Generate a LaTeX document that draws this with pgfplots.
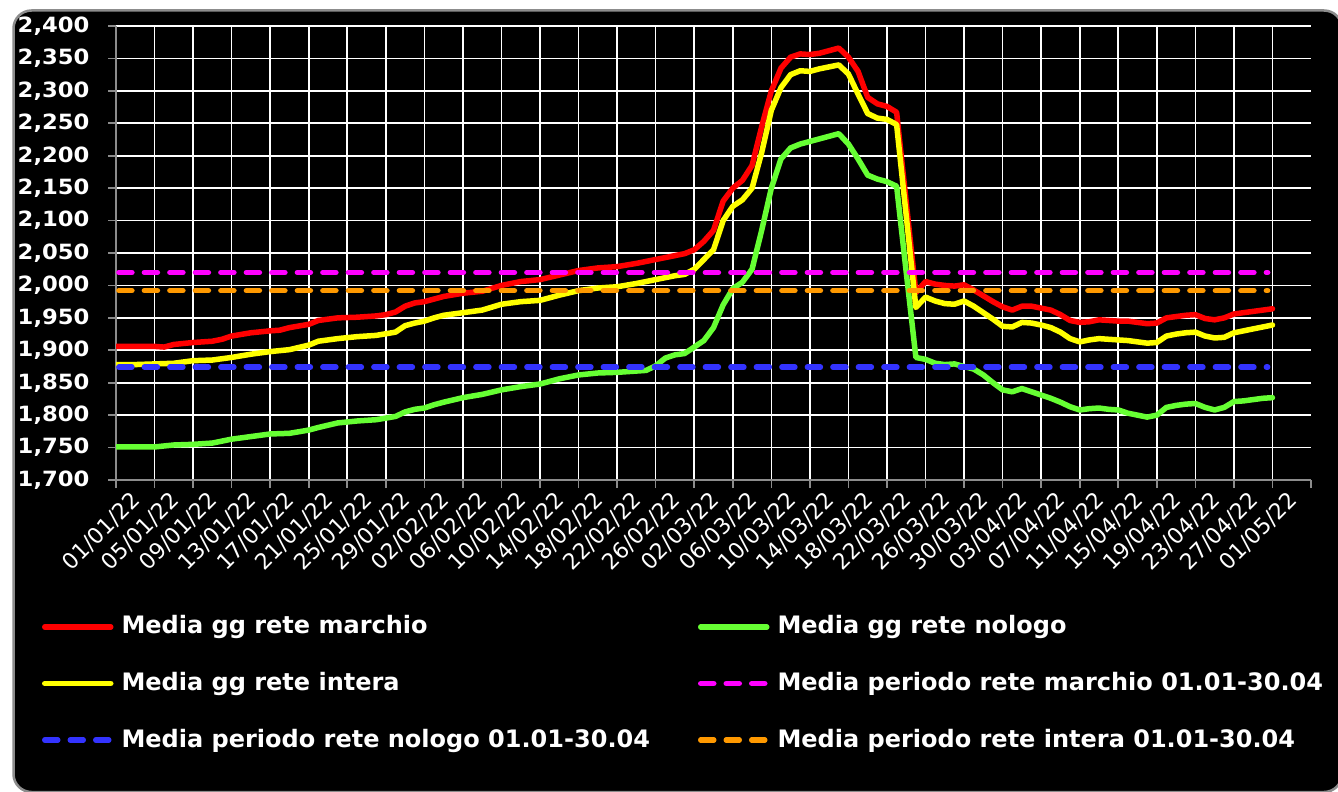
\documentclass[border=0pt]{standalone}
\usepackage{pgfplots}
\pgfplotsset{compat=1.18}
\usepackage{pgfplotstable}
\usepackage{fontspec}
\setmainfont{DejaVu Sans}
\newfontfamily\tickfam[FakeStretch=1.08]{DejaVu Sans}
\newfontfamily\legfam{DejaVu Sans}
\definecolor{cred}{HTML}{FF0000}
\definecolor{cyel}{HTML}{FFFF00}
\definecolor{cgrn}{HTML}{66FF33}
\definecolor{cmag}{HTML}{FF00FF}
\definecolor{cblu}{HTML}{3333FF}
\definecolor{cora}{HTML}{FF9900}
\definecolor{cframe}{HTML}{8C8C8C}

\pgfplotstableread{
day val
0 1906
2 1906
4 1906
5 1905
6 1909
8 1912
10 1914
11 1917
12 1922
14 1927
16 1930
17 1931
18 1935
20 1940
21 1946
23 1950
25 1951
27 1953
28 1955
29 1959
30 1968
31 1973
32 1975
33 1979
34 1983
36 1988
38 1991
40 2000
42 2006
44 2009
46 2016
48 2023
50 2027
52 2029
54 2034
56 2040
58 2046
59 2049
60 2055
61 2068
62 2085
63 2130
64 2150
65 2162
66 2185
67 2245
68 2300
69 2335
70 2352
71 2357
72 2356
73 2358
74 2362
75 2366
76 2352
77 2330
78 2290
79 2280
80 2276
81 2267
82 2128
83 1989
84 2006
85 2002
86 2000
87 1999
88 2001
89 1993
90 1984
91 1975
92 1967
93 1962
94 1968
95 1968
96 1965
97 1962
98 1955
99 1946
100 1943
101 1944
102 1947
103 1946
104 1945
105 1945
106 1943
107 1941
108 1942
109 1950
110 1952
111 1954
112 1955
113 1949
114 1947
115 1950
116 1956
117 1958
118 1960
119 1962
120 1964
}\tabmarchio

\pgfplotstableread{
day val
0 1878
2 1878
4 1879
6 1880
8 1884
10 1885
12 1889
14 1894
16 1898
18 1901
20 1908
21 1914
23 1918
25 1921
27 1923
29 1928
30 1938
31 1942
32 1945
33 1950
34 1954
36 1958
38 1962
40 1971
42 1975
44 1977
46 1985
48 1992
50 1996
52 1998
54 2003
56 2009
58 2015
59 2017
60 2025
61 2040
62 2055
63 2100
64 2122
65 2132
66 2150
67 2205
68 2270
69 2305
70 2325
71 2331
72 2330
73 2334
74 2337
75 2340
76 2326
77 2295
78 2265
79 2258
80 2256
81 2248
82 2107
83 1966
84 1982
85 1976
86 1972
87 1971
88 1976
89 1968
90 1958
91 1948
92 1937
93 1936
94 1943
95 1942
96 1939
97 1935
98 1928
99 1918
100 1913
101 1916
102 1918
103 1917
104 1916
105 1915
106 1913
107 1911
108 1912
109 1922
110 1925
111 1927
112 1928
113 1922
114 1919
115 1920
116 1927
117 1930
118 1933
119 1936
120 1939
}\tabintera

\pgfplotstableread{
day val
0 1751
2 1751
4 1751
6 1754
8 1755
10 1757
12 1763
14 1767
16 1771
18 1772
20 1777
21 1781
23 1788
25 1791
27 1793
29 1798
30 1805
31 1809
32 1811
33 1816
34 1820
36 1827
38 1832
40 1839
42 1844
44 1848
46 1856
48 1862
50 1865
52 1866
54 1868
55 1869
56 1876
57 1888
58 1893
59 1895
60 1905
61 1915
62 1935
63 1970
64 1995
65 2005
66 2025
67 2085
68 2150
69 2195
70 2212
71 2218
72 2222
73 2226
74 2230
75 2234
76 2218
77 2195
78 2170
79 2164
80 2160
81 2153
82 2020
83 1889
84 1886
85 1880
86 1878
87 1879
88 1875
89 1871
90 1862
91 1850
92 1839
93 1836
94 1841
95 1836
96 1831
97 1826
98 1820
99 1813
100 1808
101 1810
102 1811
103 1809
104 1808
105 1803
106 1800
107 1797
108 1800
109 1812
110 1815
111 1817
112 1818
113 1812
114 1808
115 1812
116 1821
117 1822
118 1824
119 1826
120 1827
}\tabnologo

\begin{document}
\begin{tikzpicture}[x=1bp,y=1bp]
\useasboundingbox (0,0) rectangle (1338,-791);
\fill[white] (0,0) rectangle (1338,-791);
\draw[line width=2.5bp, draw=cframe, fill=black, rounded corners=18bp] (13.5,-10.5) rectangle (1342,-792);
\begin{axis}[
  at={(116bp,-480bp)}, anchor=south west,
  scale only axis, width=1195bp, height=454bp,
  xmin=0, xmax=124, ymin=1700, ymax=2400,
  xtick={0,4,...,120},
  xticklabels={01/01/22,05/01/22,09/01/22,13/01/22,17/01/22,21/01/22,25/01/22,29/01/22,02/02/22,06/02/22,10/02/22,14/02/22,18/02/22,22/02/22,26/02/22,02/03/22,06/03/22,10/03/22,14/03/22,18/03/22,22/03/22,26/03/22,30/03/22,03/04/22,07/04/22,11/04/22,15/04/22,19/04/22,23/04/22,27/04/22,01/05/22},
  extra x ticks={124}, extra x tick labels={}, extra x tick style={grid=none},
  ytick={1700,1750,...,2400},
  grid=major, major grid style={white, line width=1.6bp},
  axis x line*=bottom, axis y line*=left,
  axis line style={cframe, line width=2bp},
  tick align=outside, major tick length=8bp,
  tick style={cframe, line width=1.6bp},
  yticklabel style={font=\tickfam\bfseries\fontsize{21bp}{21bp}\selectfont, text=white, xshift=-15bp, /pgf/number format/1000 sep={,}, /pgf/number format/assume math mode=true},
  xticklabel style={font=\fontsize{22bp}{22bp}\selectfont, text=white, rotate=45, anchor=north east, inner sep=1bp, xshift=10bp, yshift=-10bp},
  legend columns=2,
  legend cell align=left,
  legend image code/.code={\draw[#1] (0bp,0bp) -- (66bp,0bp);},
  legend style={draw=none, fill=none, text=white,
    font=\legfam\bfseries\fontsize{24bp}{24bp}\selectfont,
    at={(-0.0619,-0.2951)}, anchor=north west,
    inner sep=0pt, outer sep=0pt, row sep=30.5bp,
    nodes={inner sep=0pt, text height=20bp, text depth=6bp},
    /tikz/every odd column/.append style={column sep=8bp},
    /tikz/every even column/.append style={column sep=48bp}},
  every axis plot/.append style={line width=5.5bp, line join=round, line cap=round},
]
\addplot[cred] table[x=day,y=val] {\tabmarchio};
\addlegendentry{Media gg rete marchio}
\addplot[cgrn] table[x=day,y=val] {\tabnologo};
\addlegendentry{Media gg rete nologo}
\addplot[cyel] table[x=day,y=val] {\tabintera};
\addlegendentry{Media gg rete intera}
\addplot[cmag, dash pattern=on 13bp off 12.5bp] coordinates {(0.3,2020) (119.5,2020)};
\addlegendentry{Media periodo rete marchio 01.01-30.04}
\addplot[cblu, dash pattern=on 13bp off 12.5bp] coordinates {(0.3,1874) (119.5,1874)};
\addlegendentry{Media periodo rete nologo 01.01-30.04}
\addplot[cora, dash pattern=on 13bp off 12.5bp] coordinates {(0.3,1992) (119.5,1992)};
\addlegendentry{Media periodo rete intera 01.01-30.04}
\end{axis}
\end{tikzpicture}
\end{document}
